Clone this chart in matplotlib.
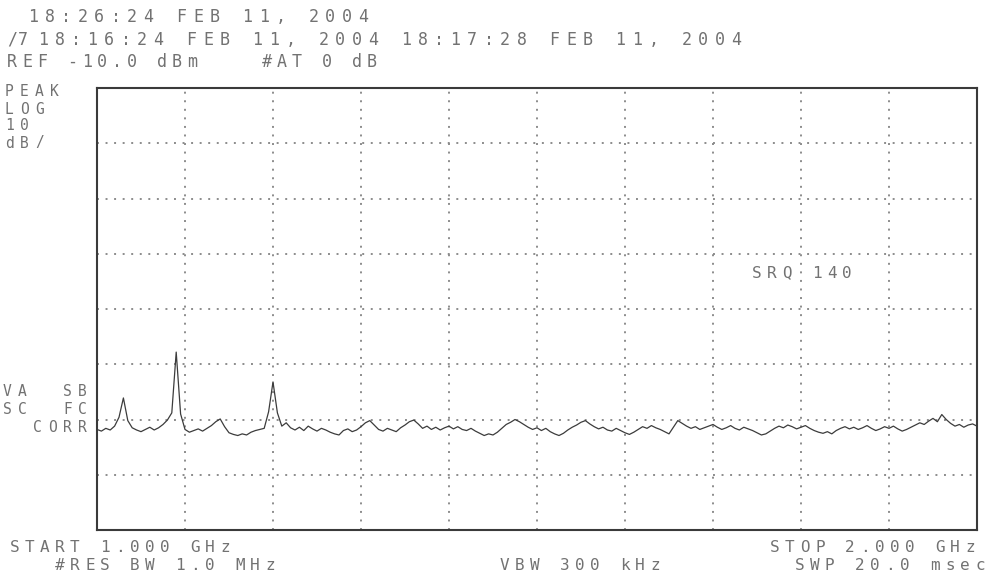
import numpy as np
import matplotlib
matplotlib.use("Agg")
import matplotlib.pyplot as plt

W, H = 997, 581  # output size in pixels

## sweep settings
freq_start = 1000   # MHz
freq_stop = 2000    # MHz
ref_level = -10.0   # dBm, top line
db_per_div = 10
n_ydiv = 8

## trace: 201 points, 5 MHz apart
freq_mhz = np.linspace(freq_start, freq_stop, 201)
level_dbm = [
    -71.8, -72.1, -71.6, -71.9, -71.2, -69.6, -66.1, -70.2, -71.5, -71.9,
    -72.2, -71.8, -71.4, -71.9, -71.5, -70.9, -70.1, -68.8, -57.8, -69.0,
    -71.8, -72.3, -72.0, -71.7, -72.1, -71.6, -71.1, -70.4, -69.9, -71.3,
    -72.4, -72.7, -72.9, -72.6, -72.8, -72.3, -72.0, -71.8, -71.6, -68.6,
    -63.2, -68.8, -71.2, -70.6, -71.5, -71.9, -71.4, -72.0, -71.2, -71.7,
    -72.1, -71.6, -71.9, -72.3, -72.6, -72.8, -72.0, -71.7, -72.2, -71.9,
    -71.3, -70.6, -70.2, -71.0, -71.8, -72.1, -71.6, -71.9, -72.2, -71.5,
    -71.0, -70.4, -70.1, -70.8, -71.6, -71.2, -71.8, -71.4, -71.9, -71.5,
    -71.2, -71.7, -71.3, -71.8, -72.0, -71.6, -72.1, -72.5, -72.9, -72.6,
    -72.8, -72.3, -71.6, -70.9, -70.5, -70.0, -70.4, -70.9, -71.4, -71.8,
    -71.5, -72.0, -71.6, -72.2, -72.6, -72.9, -72.5, -71.9, -71.4, -71.0,
    -70.5, -70.2, -70.8, -71.3, -71.7, -71.4, -71.9, -72.1, -71.6, -72.0,
    -72.4, -72.7, -72.3, -71.8, -71.3, -71.6, -71.1, -71.5, -71.8, -72.2,
    -72.6, -71.4, -70.2, -70.7, -71.2, -71.6, -71.3, -71.8, -71.5, -71.2,
    -70.9, -71.4, -71.8, -71.5, -71.1, -71.6, -71.9, -71.4, -71.7, -72.0,
    -72.4, -72.8, -72.6, -72.1, -71.6, -71.2, -71.5, -71.0, -71.3, -71.7,
    -71.4, -71.1, -71.6, -72.0, -72.3, -72.5, -72.2, -72.6, -72.0, -71.6,
    -71.3, -71.7, -71.4, -71.8, -71.5, -71.1, -71.6, -72.0, -71.7, -71.3,
    -71.6, -71.2, -71.7, -72.1, -71.8, -71.4, -71.0, -70.6, -70.9, -70.3,
    -69.8, -70.4, -69.1, -70.0, -70.7, -71.2, -70.9, -71.4, -71.0, -70.8,
    -71.2,
]

## annotation texts: (x px, y px, text, char pitch px, size pt)
header_texts = [
    (28, 17, "18:26:24 FEB 11, 2004", 16.5, 12),
    (7, 40, "/7", 11, 12),
    (38, 40, "18:16:24 FEB 11, 2004 18:17:28 FEB 11, 2004", 16.5, 12),
    (7, 62, "REF -10.0 dBm", 15, 12),
    (262, 62, "#AT 0 dB", 15, 12),
]
side_texts = [
    (5, 92, "PEAK"),
    (5, 109, "LOG"),
    (5, 126, "10"),
    (5, 143, "dB/"),
    (3, 392, "VA  SB"),
    (3, 410, "SC  FC"),
    (3, 428, "  CORR"),
]
footer_left = [
    (10, 547, "START 1.000 GHz"),
    (55, 565, "#RES BW 1.0 MHz"),
    (500, 565, "VBW 300 kHz"),
]
footer_right = [
    (975, 547, "STOP 2.000 GHz"),
    (985, 565, "SWP 20.0 msec"),
]
marker_text = (752, 273, "SRQ 140")

TXT = "#727272"
PITCH = 15

fig = plt.figure(figsize=(W / 100, H / 100), dpi=100)
fig.patch.set_facecolor("white")


def dotprint(x, y, s, pitch=PITCH, size=10.5, color=TXT):
    # printer font: fixed character cells, wide spacing
    for k, ch in enumerate(s):
        if ch == " ":
            continue
        fig.text((x + k * pitch) / W, 1 - y / H, ch, ha="left", va="center",
                 family="DejaVu Sans Mono", fontsize=size, color=color)


## plot box
ax = fig.add_axes([97 / W, 1 - 530 / H, 880 / W, 442 / H])
ax.set_xlim(freq_start, freq_stop)
ax.set_ylim(ref_level - n_ydiv * db_per_div, ref_level)
ax.set_xticks(np.arange(freq_start, freq_stop + 1, 100))
ax.set_yticks(np.arange(ref_level - n_ydiv * db_per_div, ref_level + 1, db_per_div))
ax.tick_params(length=0, labelbottom=False, labelleft=False)
ax.grid(True, color="#8c8c8c", linewidth=1.4, linestyle=(0, (1, 3.4)))
for sp in ax.spines.values():
    sp.set_color("#3a3a3a")
    sp.set_linewidth(1.5)

ax.plot(freq_mhz, level_dbm, color="#3c3c3c", linewidth=0.9)

for x, y, s, p, sz in header_texts:
    dotprint(x, y, s, pitch=p, size=sz)
for x, y, s in side_texts:
    dotprint(x, y, s)
for x, y, s in footer_left:
    dotprint(x, y, s, size=11.5)
for x, y, s in footer_right:
    dotprint(x - (len(s) - 1) * PITCH - 10, y, s, size=11.5)
dotprint(*marker_text, size=11.5)

fig.savefig("out.png", dpi=100)
